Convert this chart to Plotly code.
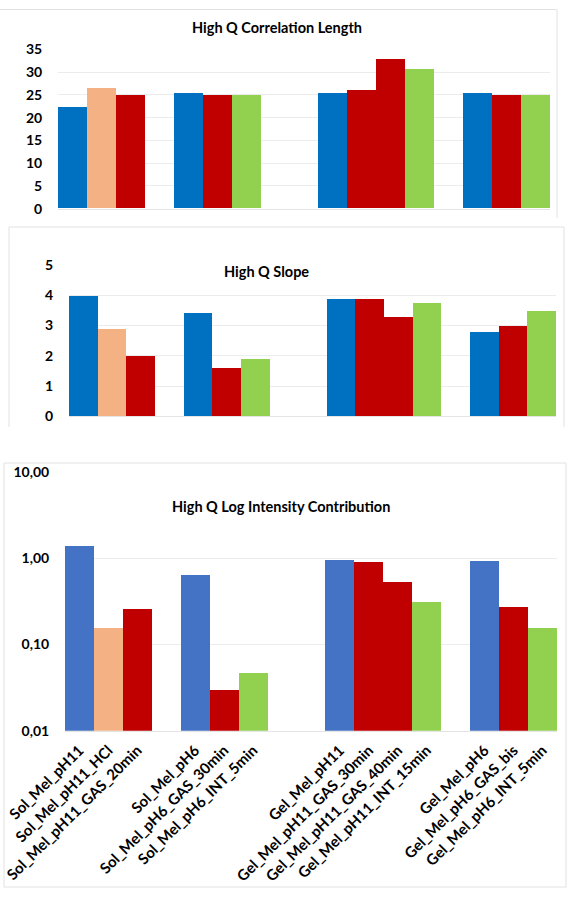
import plotly.graph_objects as go

# ---------------- data ----------------
categories = [
    "Sol_Mel_pH11", "Sol_Mel_pH11_HCl", "Sol_Mel_pH11_GAS_20min",
    "Sol_Mel_pH6", "Sol_Mel_pH6_GAS_30min", "Sol_Mel_pH6_INT_5min",
    "Gel_Mel_pH11", "Gel_Mel_pH11_GAS_30min", "Gel_Mel_pH11_GAS_40min", "Gel_Mel_pH11_INT_15min",
    "Gel_Mel_pH6", "Gel_Mel_pH6_GAS_bis", "Gel_Mel_pH6_INT_5min",
]
group_sizes = [3, 3, 4, 3]
gaps_before = [0, 1, 2, 1]
kinds = ["ref", "hcl", "gas", "ref", "gas", "int", "ref", "gas", "gas", "int", "ref", "gas", "int"]

correlation_length = [22.3, 26.5, 25.0, 25.4, 25.0, 25.0, 25.3, 26.0, 32.9, 30.5, 25.4, 25.0, 25.0]
slope = [3.98, 2.87, 1.99, 3.40, 1.60, 1.88, 3.88, 3.88, 3.28, 3.74, 2.79, 2.99, 3.48]
log_intensity = [1.38, 0.155, 0.258, 0.63, 0.0297, 0.047, 0.96, 0.90, 0.53, 0.307, 0.93, 0.269, 0.155]

log_tickvals = [0.01, 0.1, 1, 10]
log_ticktext = ["0,01", "0,10", "1,00", "10,00"]

# ---------------- layout helpers ----------------
W, H = 573, 909
FONT = "Lato"
palette_top = {"ref": "#0070C0", "hcl": "#F4B183", "gas": "#C00000", "int": "#92D050"}
palette_bot = {"ref": "#4472C4", "hcl": "#F4B183", "gas": "#C00000", "int": "#92D050"}

positions = []
pos = 0
for size, gap in zip(group_sizes, gaps_before):
    pos += gap
    for _ in range(size):
        positions.append(pos)
        pos += 1
n_slots = pos


def px_x(v):
    return v / W


def px_y(v):
    return 1 - v / H


fig = go.Figure()

panels = [
    dict(vals=correlation_length, pal=palette_top, x0=58, x1=550, ytop=49.3, ybot=208.7,
         yrange=[0, 35], ytype="linear", dtick=5),
    dict(vals=slope, pal=palette_top, x0=69, x1=556, ytop=265, ybot=416.3,
         yrange=[0, 5], ytype="linear", dtick=1),
    dict(vals=log_intensity, pal=palette_bot, x0=65, x1=557, ytop=472.3, ybot=730.7,
         yrange=[-2, 1], ytype="log", dtick=None),
]

for i, p in enumerate(panels, start=1):
    xa = "x" if i == 1 else f"x{i}"
    ya = "y" if i == 1 else f"y{i}"
    fig.add_trace(go.Bar(
        x=positions, y=p["vals"], width=1.0,
        marker=dict(color=[p["pal"][k] for k in kinds], line=dict(width=0)),
        xaxis=xa, yaxis=ya, showlegend=False, hoverinfo="y",
    ))
    xkey = "xaxis" if i == 1 else f"xaxis{i}"
    ykey = "yaxis" if i == 1 else f"yaxis{i}"
    xaxis = dict(
        domain=[px_x(p["x0"]), px_x(p["x1"])], range=[-0.5, n_slots - 0.5],
        anchor=ya, showgrid=False, zeroline=False, showline=True, automargin=False,
        linecolor="#e4e4e4", linewidth=1, fixedrange=True,
    )
    if i == 3:
        xaxis.update(tickmode="array", tickvals=positions, ticktext=categories,
                     tickangle=-45, ticks="outside", ticklen=4, tickcolor="rgba(0,0,0,0)",
                     tickfont=dict(family=FONT, size=15, color="#000", weight="bold"))
    else:
        xaxis.update(showticklabels=False, ticks="")
    yaxis = dict(
        domain=[px_y(p["ybot"]), px_y(p["ytop"])], anchor=xa, automargin=False,
        showgrid=True, gridcolor="#ececec", gridwidth=1, zeroline=False,
        showline=False, ticks="outside", ticklen=12, tickcolor="rgba(0,0,0,0)",
        tickfont=dict(family=FONT, size=14, color="#000", weight="bold"), fixedrange=True,
    )
    if p["ytype"] == "log":
        yaxis.update(type="log", range=p["yrange"], tickmode="array",
                     tickvals=log_tickvals, ticktext=log_ticktext)
    else:
        yaxis.update(range=p["yrange"], dtick=p["dtick"], tick0=0)
    fig.layout[xkey] = xaxis
    fig.layout[ykey] = yaxis

titles = [
    ("High Q Correlation Length", 277, 27.5),
    ("High Q Slope", 266, 271.5),
    ("High Q Log Intensity Contribution", 281, 506.5),
]
annotations = [
    dict(text=t, x=px_x(x), y=px_y(y), xref="paper", yref="paper", showarrow=False,
         xanchor="center", yanchor="middle",
         font=dict(family=FONT, size=14.5, color="#000", weight="bold"))
    for t, x, y in titles
]

frame = dict(color="#e2e2e2", width=1)
shapes = [
    # panel 1 frame (top and right visible)
    dict(type="line", xref="paper", yref="paper", x0=0, x1=px_x(557), y0=px_y(9.5), y1=px_y(9.5), line=frame),
    dict(type="line", xref="paper", yref="paper", x0=px_x(557), x1=px_x(557), y0=px_y(9.5), y1=px_y(218), line=frame),
    # panel 2 frame
    dict(type="line", xref="paper", yref="paper", x0=px_x(9), x1=px_x(564), y0=px_y(227), y1=px_y(227), line=frame),
    dict(type="line", xref="paper", yref="paper", x0=px_x(9), x1=px_x(9), y0=px_y(227), y1=px_y(427), line=frame),
    dict(type="line", xref="paper", yref="paper", x0=px_x(564), x1=px_x(564), y0=px_y(227), y1=px_y(427), line=frame),
    # panel 3 frame
    dict(type="rect", xref="paper", yref="paper", x0=px_x(4), x1=px_x(566), y0=px_y(887), y1=px_y(463), line=frame),
]

fig.update_layout(
    width=W, height=H, margin=dict(l=0, r=0, t=0, b=0, autoexpand=False),
    paper_bgcolor="white", plot_bgcolor="white",
    bargap=0, annotations=annotations, shapes=shapes,
    font=dict(family=FONT),
)

fig.write_html("out.html")
